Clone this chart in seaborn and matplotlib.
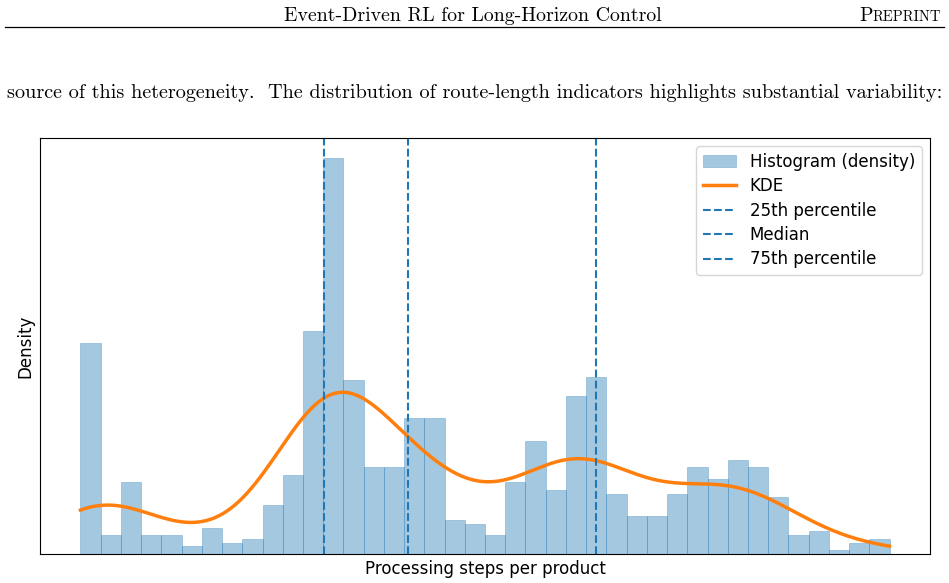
import numpy as np
import pandas as pd
import seaborn as sns
import matplotlib.pyplot as plt
from matplotlib.lines import Line2D

# histogram counts per bin, 40 equal bins
bin_counts = [56, 5, 19, 5, 5, 2, 7, 3, 4, 13,
              21, 59, 105, 46, 23, 23, 36, 36, 9, 8,
              5, 19, 30, 17, 42, 47, 16, 10, 10, 16,
              23, 20, 25, 23, 15, 5, 6, 1, 3, 4]
x_min, x_max = 0, 40
# quartile markers
q25, q50, q75 = 12.03, 16.2, 25.5

edges = np.linspace(x_min, x_max, len(bin_counts) + 1)
centers = (edges[:-1] + edges[1:]) / 2
df = pd.DataFrame({'steps': centers, 'count': bin_counts})

header = 'Event-Driven RL for Long-Horizon Control'
sentence = ('source of this heterogeneity.  The distribution of route-length '
            'indicators highlights substantial variability:')

plt.rcParams['font.family'] = ['DejaVu Sans']

fig = plt.figure(figsize=(9.49, 5.83), dpi=100)
ax = fig.add_axes([40/949, 29/583, 890/949, 416/583])

# histogram + kde
sns.histplot(data=df, x='steps', weights='count', bins=len(bin_counts),
             binrange=(x_min, x_max), stat='density',
             color='C0', alpha=0.4, edgecolor=(0.12, 0.47, 0.71, 0.35),
             linewidth=0.6, label='Histogram (density)', ax=ax)
sns.kdeplot(data=df, x='steps', weights='count', bw_adjust=0.47,
            clip=(x_min, x_max), color='C1', linewidth=2.5, label='KDE', ax=ax)

ax.axvline(q25, color='C0', linestyle='--', linewidth=1.5, label='25th percentile')
ax.axvline(q50, color='C0', linestyle='--', linewidth=1.5, label='Median')
ax.axvline(q75, color='C0', linestyle='--', linewidth=1.5, label='75th percentile')

ax.margins(x=0.05, y=0.05)
ax.set_ylim(0, None)
ax.set_xticks([])
ax.set_yticks([])
ax.set_xlabel('Processing steps per product', fontsize=12, labelpad=4)
ax.set_ylabel('Density', fontsize=12, labelpad=4)

handles, labels = ax.get_legend_handles_labels()
order = ['Histogram (density)', 'KDE', '25th percentile', 'Median', '75th percentile']
hmap = dict(zip(labels, handles))
ax.legend([hmap[k] for k in order], order, loc='upper right', fontsize=12,
          labelspacing=0.38)

# page header and body text
fig.text(473/949, 1 - 21/583, header, ha='center', va='baseline',
         fontfamily='cmr10', fontsize=14.3)
r = fig.canvas.get_renderer()
t2 = fig.text(941/949, 1 - 21/583, 'REPRINT', ha='right', va='baseline',
              fontfamily='cmr10', fontsize=10.5)
w = t2.get_window_extent(renderer=r).width
fig.text((941 - w)/949, 1 - 21/583, 'P', ha='right', va='baseline',
         fontfamily='cmr10', fontsize=14.3)
fig.add_artist(Line2D([5/949, 944/949], [1 - 26.5/583] * 2, color='black', linewidth=0.9))
fig.text(7/949, 1 - 98.5/583, sentence, ha='left', va='baseline',
         fontfamily='cmr10', fontsize=14.55)

fig.savefig('out.png', dpi=100)
